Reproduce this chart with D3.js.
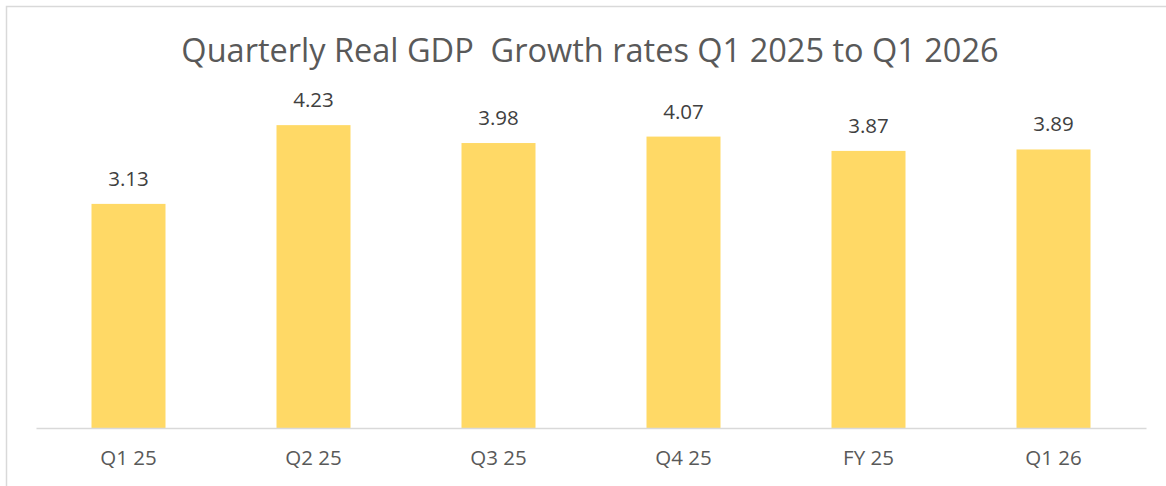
<!DOCTYPE html>
<html lang="en">
<head>
  <meta charset="UTF-8">
  <title>Quarterly Real GDP Growth</title>
  <script src="https://cdn.jsdelivr.net/npm/d3@7"></script>
  <style>
    body { margin: 0; background: #fff; }
    text { font-family: 'Open Sans', sans-serif; }
  </style>
</head>
<body>
</body>
<script>
  const categories = ['Q1 25', 'Q2 25', 'Q3 25', 'Q4 25', 'FY 25', 'Q1 26'];
  const growth = [3.13, 4.23, 3.98, 4.07, 3.87, 3.89];
  const titleText = 'Quarterly Real GDP\u00a0 Growth rates Q1 2025 to Q1 2026';

  const width = 1166;
  const height = 486;
  const margin = { top: 70, right: 20, bottom: 58, left: 36 };

  const svg = d3.select('body').append('svg')
    .attr('width', width)
    .attr('height', height)
    .attr('viewBox', [0, 0, width, height]);

  // chart frame (runs off the right and bottom edges)
  svg.append('rect')
    .attr('x', 6.5).attr('y', 6.5)
    .attr('width', width).attr('height', height)
    .attr('fill', 'none')
    .attr('stroke', '#d9d9d9')
    .attr('stroke-width', 1.5);

  // excel-like categories: gap split evenly on both sides of each bar
  const x = d3.scaleBand()
    .domain(categories)
    .range([margin.left, width - margin.right])
    .paddingInner(0.6)
    .paddingOuter(0.3);

  const y = d3.scaleLinear()
    .domain([0, 5])
    .range([height - margin.bottom, margin.top]);

  svg.append('text')
    .attr('x', 590)
    .attr('y', 62)
    .attr('text-anchor', 'middle')
    .attr('fill', '#595959')
    .style('font-size', '32.5px')
    .text(titleText);

  svg.append('g')
    .attr('fill', '#ffd966')
    .selectAll('rect')
    .data(growth)
    .join('rect')
    .attr('x', (d, i) => x(categories[i]))
    .attr('y', d => y(d))
    .attr('width', x.bandwidth())
    .attr('height', d => y(0) - y(d));

  svg.append('g')
    .selectAll('text')
    .data(growth)
    .join('text')
    .attr('x', (d, i) => x(categories[i]) + x.bandwidth() / 2)
    .attr('y', d => y(d) - 18)
    .attr('text-anchor', 'middle')
    .attr('fill', '#404040')
    .style('font-size', '20.5px')
    .text(d => d.toFixed(2));

  const xAxis = g => g
    .attr('transform', `translate(0,${ y(0) })`)
    .call(d3.axisBottom(x).tickSize(0).tickSizeOuter(0).tickPadding(22))
    .call(g => g.select('.domain').attr('stroke', '#d9d9d9').attr('stroke-width', 1.5))
    .call(g => g.selectAll('text')
      .attr('fill', '#595959')
      .style('font-family', "'Open Sans', sans-serif")
      .style('font-size', '20.5px'));

  svg.append('g').call(xAxis);
</script>
</html>
